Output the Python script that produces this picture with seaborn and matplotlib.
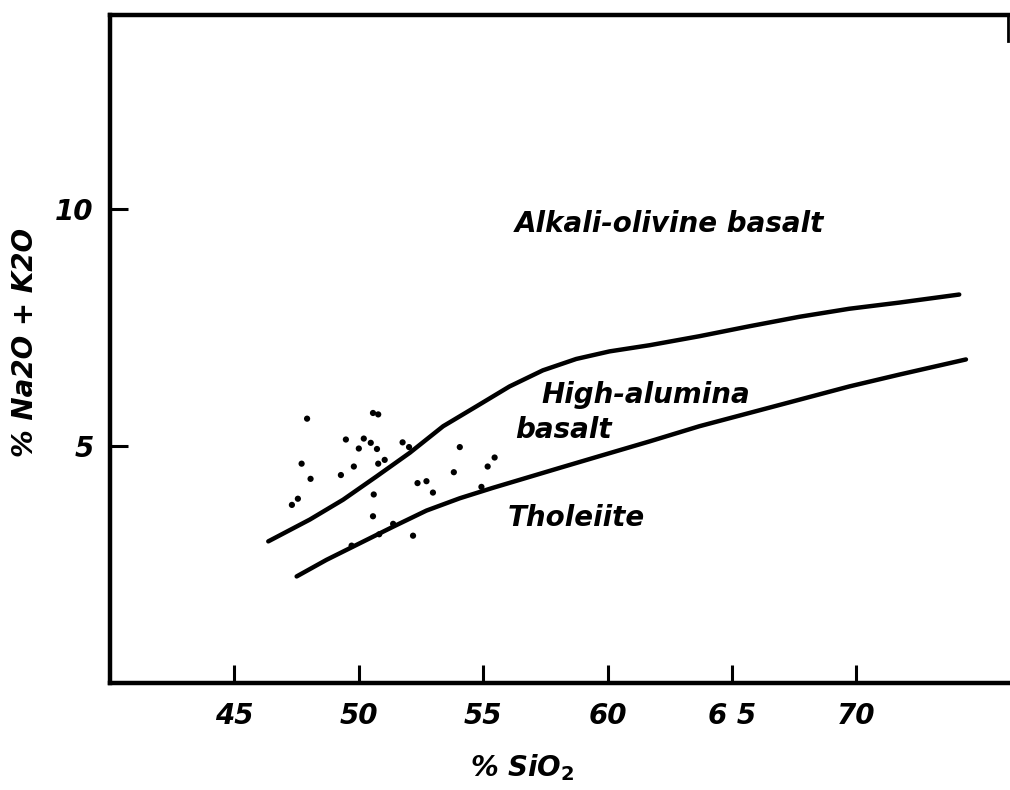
import matplotlib
matplotlib.use("Agg")
import matplotlib.pyplot as plt
import seaborn as sns
import pandas as pd

# Boundary: alkali-olivine basalt / high-alumina basalt
upper_sio2 = [46.36, 48.03, 49.37, 50.71, 52.05, 53.39, 54.73, 56.06, 57.40, 58.74, 60.08, 61.69,
              63.69, 65.70, 67.71, 69.72, 71.73, 74.14]
upper_alk = [2.99, 3.45, 3.87, 4.36, 4.86, 5.42, 5.84, 6.26, 6.60, 6.84, 7.00, 7.13,
             7.32, 7.53, 7.73, 7.90, 8.03, 8.20]

# Boundary: high-alumina basalt / tholeiite
lower_sio2 = [47.50, 48.70, 50.04, 51.38, 52.72, 54.06, 55.39, 56.73, 58.07, 59.68, 61.69,
              63.69, 65.70, 67.71, 69.72, 71.73, 74.41]
lower_alk = [2.25, 2.60, 2.95, 3.30, 3.64, 3.90, 4.12, 4.33, 4.54, 4.79, 5.10,
             5.42, 5.70, 5.98, 6.26, 6.51, 6.83]

# Sample analyses
pts_sio2 = [47.92, 50.57, 50.78, 49.48, 50.20, 50.48, 50.00, 50.73, 51.76, 52.02,
            47.70, 49.80, 50.78, 51.04, 49.28, 48.06, 47.31, 47.55, 50.60, 50.57,
            51.38, 50.82, 49.71, 52.18, 52.36, 52.72, 52.98, 53.82, 54.06, 54.93,
            55.18, 55.46]
pts_alk = [5.58, 5.70, 5.67, 5.14, 5.16, 5.07, 4.95, 4.94, 5.08, 4.98,
           4.63, 4.57, 4.63, 4.71, 4.39, 4.31, 3.76, 3.89, 3.98, 3.52,
           3.36, 3.14, 2.90, 3.11, 4.22, 4.26, 4.02, 4.45, 4.98, 4.14,
           4.57, 4.76]

x_ticks = [45, 50, 55, 60, 65, 70]
x_tick_labels = ["45", "50", "55", "60", "6 5", "70"]
y_ticks = [5, 10]
y_tick_labels = ["5", "10"]

field_labels = ["Alkali-olivine basalt", "High-alumina", "basalt", "Tholeiite"]

sns.set_theme(style="white")
plt.rcParams['font.family'] = ['DejaVu Sans']
plt.rcParams['text.color'] = 'black'
plt.rcParams['axes.labelcolor'] = 'black'
plt.rcParams['xtick.color'] = 'black'
plt.rcParams['ytick.color'] = 'black'

fig = plt.figure(figsize=(10.1, 7.9), dpi=100)
ax = fig.add_axes([0.109, 0.1354, 0.889, 0.8456])

upper = pd.DataFrame({"sio2": upper_sio2, "alk": upper_alk})
lower = pd.DataFrame({"sio2": lower_sio2, "alk": lower_alk})
pts = pd.DataFrame({"sio2": pts_sio2, "alk": pts_alk})

sns.lineplot(data=upper, x="sio2", y="alk", sort=False, color="black", lw=3.2, ax=ax)
sns.lineplot(data=lower, x="sio2", y="alk", sort=False, color="black", lw=3.2, ax=ax)
sns.scatterplot(data=pts, x="sio2", y="alk", color="black", s=20, edgecolor="none", ax=ax)

ax.set_xlim(40, 76.1)
ax.set_ylim(0, 14.1)

tfont = dict(fontsize=20, fontweight="bold", fontstyle="italic", color="black")
ax.set_xticks(x_ticks)
ax.set_xticklabels(x_tick_labels, **tfont)
ax.set_yticks(y_ticks)
ax.set_yticklabels(y_tick_labels, **tfont)
ax.tick_params(axis="x", direction="in", length=13, width=2.2, color="black", pad=14, bottom=True)
ax.tick_params(axis="y", direction="in", length=13, width=2.2, color="black", pad=12, left=True)

for side in ["left", "bottom", "top"]:
    ax.spines[side].set_linewidth(3.2)
    ax.spines[side].set_color("black")
ax.spines["right"].set_linewidth(2.0)
ax.spines["right"].set_color("black")
ax.spines["right"].set_bounds(13.55, 14.1)

lfont = dict(fontsize=20, fontweight="bold", fontstyle="italic", color="black")
ax.set_xlabel("% SiO$_\\mathbf{2}$", **lfont)
ax.xaxis.label.set_va("center")
ax.xaxis.set_label_coords(0.459, -0.127)
ax.set_ylabel("% Na2O + K2O", **lfont)
ax.yaxis.label.set_va("center")
ax.yaxis.set_label_coords(-0.095, 0.51)

afont = dict(fontsize=20, fontweight="bold", fontstyle="italic", color="black")
ax.text(62.49, 9.68, field_labels[0], ha="center", va="center", **afont)
ax.text(57.33, 6.09, field_labels[1], ha="left", va="center", **afont)
ax.text(56.27, 5.35, field_labels[2], ha="left", va="center", **afont)
ax.text(55.98, 3.49, field_labels[3], ha="left", va="center", **afont)

fig.savefig("out.png", dpi=100)
